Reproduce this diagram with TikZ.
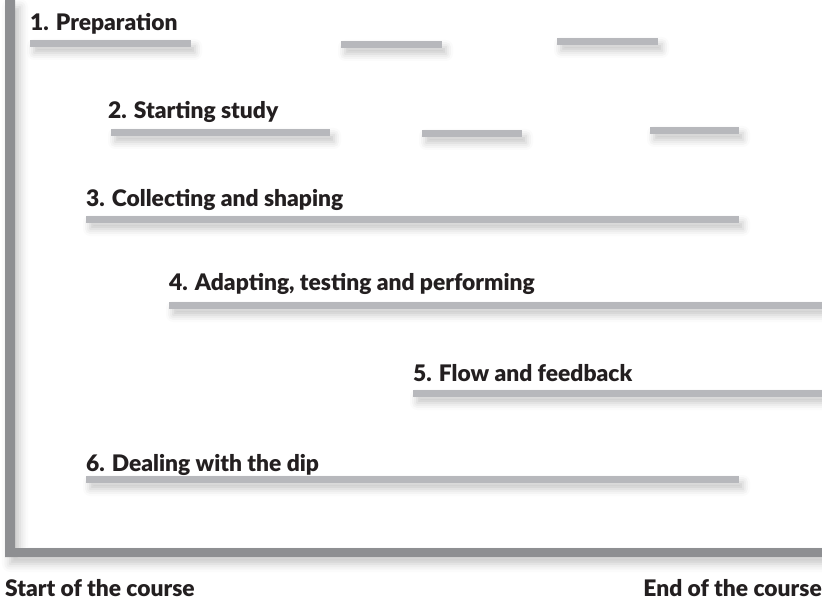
\documentclass[tikz,border=0pt]{standalone}
\usepackage{fontspec}
\setmainfont{Lato}[BoldFont={Lato Black}]
\usetikzlibrary{shadows.blur}

\definecolor{axisgray}{HTML}{8E8F92}
\definecolor{bargray}{HTML}{B7B8BC}
\definecolor{ink}{HTML}{231F20}

\tikzset{
  phasebar/.style={fill=bargray, draw=none,
    blur shadow={shadow xshift=4pt, shadow yshift=-6pt,
      shadow blur radius=7pt, shadow opacity=22}},
  phaselabel/.style={anchor=base west, inner sep=0pt, text=ink,
    font=\fontsize{22.8}{26}\selectfont\bfseries},
}

\begin{document}
\begin{tikzpicture}[x=1pt,y=-1pt]

\useasboundingbox (0,0) rectangle (822,601);

% axes
\fill[axisgray, blur shadow={shadow xshift=5pt, shadow yshift=-7pt,
    shadow blur radius=8pt, shadow opacity=22}]
  (5,0) -- (15,0) -- (15,548) -- (822,548) -- (822,557) -- (5,557) -- cycle;

% 1
\node[phaselabel] (prep) at (30,31) {1. Preparation};
\fill[phasebar] (30,40) rectangle (191,47);
\fill[phasebar] (341,41) rectangle (442,48);
\fill[phasebar] (557,38) rectangle (658,45);

% 2
\node[phaselabel] (study) at (108,119) {2. Starting study};
\fill[phasebar] (111,129) rectangle (330,136);
\fill[phasebar] (422,130) rectangle (522,137);
\fill[phasebar] (650,127) rectangle (739,134);

% 3
\node[phaselabel] (collect) at (86,207) {3. Collecting and shaping};
\fill[phasebar] (86,216) rectangle (739,223);

% 4
\node[phaselabel] (adapt) at (169,291) {4. Adapting, testing and performing};
\fill[phasebar] (169,302) rectangle (822,309);

% 5
\node[phaselabel] (flow) at (413,382) {5. Flow and feedback};
\fill[phasebar] (413,390) rectangle (822,397);

% 6
\node[phaselabel] (dip) at (86,471) {6. Dealing with the dip};
\fill[phasebar] (86,476) rectangle (739,483);

% course ends
\node[phaselabel] (start) at (5,596) {Start of the course};
\node[phaselabel, anchor=base east] (end) at (822,596) {End of the course};

\end{tikzpicture}
\end{document}
